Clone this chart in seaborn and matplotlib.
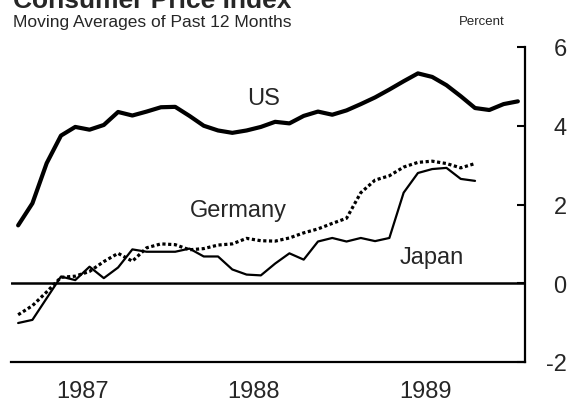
import numpy as np
import pandas as pd
import matplotlib
matplotlib.use('Agg')
import matplotlib.pyplot as plt
import seaborn as sns

# 12-month moving averages, percent, monthly from Jan 1987
us = [1.47, 2.03, 3.05, 3.75, 3.97, 3.90, 4.02, 4.35, 4.26, 4.36, 4.47, 4.48,
      4.25, 4.00, 3.88, 3.82, 3.88, 3.97, 4.10, 4.06, 4.25, 4.36, 4.28, 4.39,
      4.55, 4.72, 4.92, 5.13, 5.33, 5.24, 5.03, 4.75, 4.45, 4.40, 4.55, 4.62]
germany = [-0.80, -0.57, -0.22, 0.15, 0.18, 0.30, 0.55, 0.76, 0.56, 0.90, 1.00, 0.98,
           0.85, 0.88, 0.97, 1.00, 1.14, 1.08, 1.07, 1.15, 1.28, 1.38, 1.52, 1.65,
           2.30, 2.62, 2.73, 2.95, 3.07, 3.10, 3.04, 2.93, 3.04]
japan = [-1.01, -0.93, -0.38, 0.17, 0.08, 0.42, 0.13, 0.40, 0.86, 0.80, 0.80, 0.80,
         0.88, 0.68, 0.68, 0.35, 0.22, 0.20, 0.50, 0.76, 0.60, 1.06, 1.15, 1.06,
         1.15, 1.07, 1.15, 2.30, 2.80, 2.90, 2.93, 2.65, 2.60]
years = ['1987', '1988', '1989']
y_ticks = [-2, 0, 2, 4, 6]

sns.set_style('white')
plt.rcParams['font.family'] = ['Liberation Sans', 'DejaVu Sans']
plt.rcParams['axes.unicode_minus'] = False

fig = plt.figure(figsize=(5.67, 4.02), dpi=100)
ax = fig.add_axes([11/567, 39/402, 514/567, 315/402])

series = [
    (us, dict(lw=3.0, linestyle='-')),
    (germany, dict(lw=2.3, linestyle=(0, (1, 0.8)), dash_capstyle='butt')),
    (japan, dict(lw=1.6, linestyle='-')),
]
for vals, kw in series:
    months = np.arange(len(vals)) + 0.5
    sns.lineplot(x=months, y=vals, color='black', ax=ax, **kw)

ax.axhline(0, color='black', lw=1.8)

ax.text(17.7, 4.56, 'US', ha='center', va='baseline', fontsize=17)
ax.text(15.9, 1.72, 'Germany', ha='center', va='baseline', fontsize=17)
ax.text(29.5, 0.51, 'Japan', ha='center', va='baseline', fontsize=17)

ax.set_xlim(0, 36)
ax.set_ylim(-2, 6)
ax.set_xticks([0, 12, 24, 36])
ax.set_xticklabels([])
ax.set_xticks([5, 17, 29], minor=True)
ax.set_xticklabels(years, minor=True, fontsize=17)
ax.tick_params(axis='x', which='major', direction='in', length=7, width=1.5, color='black')
ax.tick_params(axis='x', which='minor', length=0, pad=13)

ax.set_yticks(y_ticks)
ax.set_yticklabels([str(t) for t in y_ticks], fontsize=17)
ax.yaxis.tick_right()
ax.tick_params(axis='y', direction='in', length=6, width=1.5, color='black', pad=30)
for lbl in ax.get_yticklabels():
    lbl.set_horizontalalignment('right')

for side in ['left', 'top']:
    ax.spines[side].set_visible(False)
for side in ['right', 'bottom']:
    ax.spines[side].set_color('black')
    ax.spines[side].set_linewidth(1.6)
ax.set_xlabel('')
ax.set_ylabel('')

# title sits partly above the top edge, as in the scanned original
fig.text(13/567, 1 - 8/402, 'Consumer Price Index', fontsize=19, fontweight='bold', va='baseline')
fig.text(13/567, 1 - 27/402, 'Moving Averages of Past 12 Months', fontsize=12.5, va='baseline')
fig.text(482/567, 1 - 25/402, 'Percent', fontsize=9.5, ha='center', va='baseline')

fig.savefig('out.png', dpi=100)
